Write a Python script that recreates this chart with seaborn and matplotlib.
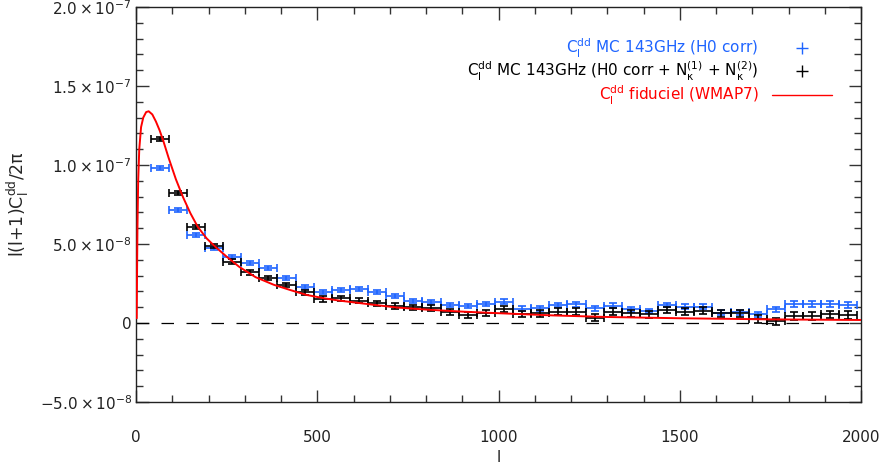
import numpy as np
import pandas as pd
import matplotlib
matplotlib.use('Agg')
import matplotlib.pyplot as plt
from matplotlib.lines import Line2D
from matplotlib.ticker import FixedLocator, FixedFormatter, MultipleLocator
import seaborn as sns

# Binned multipoles (bin centres) and half bin width
ell = [65, 115, 165, 215, 265, 315, 365, 415, 465, 515, 565, 615, 665, 715,
       765, 815, 865, 915, 965, 1015, 1065, 1115, 1165, 1215, 1265, 1315,
       1365, 1415, 1465, 1515, 1565, 1615, 1665, 1715, 1765, 1815, 1865,
       1915, 1965]
half_bin = 25

# MC 143GHz (H0 corr), units of 1e-8
cl_h0 = [9.83, 7.13, 5.57, 4.72, 4.16, 3.80, 3.50, 2.87, 2.30, 1.96, 2.09,
         2.15, 1.94, 1.71, 1.41, 1.31, 1.14, 1.08, 1.18, 1.35, 0.91, 0.93,
         1.14, 1.18, 0.93, 1.10, 0.87, 0.76, 1.14, 1.03, 1.03, 0.65, 0.68,
         0.55, 0.87, 1.20, 1.20, 1.20, 1.14]
err_h0 = [0.12, 0.12, 0.12, 0.12, 0.12, 0.12, 0.12, 0.12, 0.12, 0.12, 0.12,
          0.12, 0.12, 0.12, 0.13, 0.13, 0.13, 0.13, 0.13, 0.14, 0.14, 0.14,
          0.14, 0.14, 0.15, 0.15, 0.15, 0.15, 0.15, 0.16, 0.16, 0.16, 0.16,
          0.17, 0.17, 0.17, 0.17, 0.18, 0.18]

# MC 143GHz (H0 corr + N1 + N2), units of 1e-8
cl_n12 = [11.65, 8.21, 6.10, 4.85, 3.88, 3.20, 2.83, 2.41, 1.94, 1.52, 1.56,
          1.41, 1.25, 1.08, 0.99, 0.97, 0.68, 0.51, 0.61, 0.87, 0.55, 0.61,
          0.72, 0.72, 0.34, 0.72, 0.61, 0.55, 0.82, 0.72, 0.78, 0.61, 0.61,
          0.25, 0.10, 0.44, 0.44, 0.55, 0.49]
err_n12 = [0.13, 0.13, 0.13, 0.13, 0.14, 0.14, 0.14, 0.15, 0.15, 0.16, 0.16,
           0.16, 0.17, 0.17, 0.17, 0.18, 0.18, 0.18, 0.19, 0.19, 0.19, 0.20,
           0.20, 0.20, 0.20, 0.21, 0.21, 0.21, 0.21, 0.22, 0.22, 0.22, 0.22,
           0.23, 0.23, 0.23, 0.23, 0.24, 0.24]

# fiducial WMAP7 curve, units of 1e-8
fid_ell = [2, 3, 4, 6, 9, 14, 20, 28, 35, 45, 55, 65, 75, 90, 110, 130, 150,
           170, 195, 220, 250, 285, 330, 380, 425, 470, 520, 560, 610, 660,
           720, 800, 900, 1000, 1150, 1300, 1500, 1750, 2000]
fid_cl = [0.3, 3.5, 6.0, 9.0, 11.0, 12.4, 13.0, 13.35, 13.4, 13.2, 12.75,
          12.2, 11.55, 10.45, 9.1, 7.95, 6.95, 6.1, 5.35, 4.8, 4.2, 3.55,
          2.9, 2.42, 2.09, 1.78, 1.56, 1.42, 1.28, 1.14, 0.98, 0.85, 0.72,
          0.62, 0.48, 0.38, 0.30, 0.23, 0.19]

ytick_vals = [-5e-8, 0, 5e-8, 1e-7, 1.5e-7, 2e-7]
ytick_labels = [r'$-5.0\times10^{-8}$', '0', r'$5.0\times10^{-8}$',
                r'$1.0\times10^{-7}$', r'$1.5\times10^{-7}$', r'$2.0\times10^{-7}$']
xtick_vals = [0, 500, 1000, 1500, 2000]

labels = [r'C$_\mathrm{l}^\mathrm{dd}$ MC 143GHz (H0 corr)',
          r'C$_\mathrm{l}^\mathrm{dd}$ MC 143GHz (H0 corr + N$_\kappa^\mathrm{(1)}$ + N$_\kappa^\mathrm{(2)}$)',
          r'C$_\mathrm{l}^\mathrm{dd}$ fiduciel (WMAP7)']

blue = '#1e64ff'
scale = 1e-8

sns.set_style('ticks')
plt.rcParams['font.family'] = ['DejaVu Sans']
plt.rcParams['mathtext.fontset'] = 'dejavusans'
plt.rcParams['mathtext.default'] = 'regular'

fig = plt.figure(figsize=(8.83, 4.66), dpi=100)
ax = fig.add_axes([136 / 883, 1 - 402 / 466, 725 / 883, 395 / 466])

ax.errorbar(ell, np.array(cl_h0) * scale, xerr=half_bin, yerr=np.array(err_h0) * scale,
            fmt='none', ecolor=blue, elinewidth=1.2, capsize=3, capthick=1.2)
ax.errorbar(ell, np.array(cl_n12) * scale, xerr=half_bin, yerr=np.array(err_n12) * scale,
            fmt='none', ecolor='black', elinewidth=1.2, capsize=3, capthick=1.2)

fid = pd.DataFrame({'l': fid_ell, 'cl': np.array(fid_cl) * scale})
sns.lineplot(data=fid, x='l', y='cl', color='red', lw=1.4, ax=ax, sort=False, zorder=3)

ax.axhline(0, color='black', lw=0.9, ls=(0, (10, 10)))

ax.set_xlim(0, 2000)
ax.set_ylim(-5e-8, 2e-7)
ax.xaxis.set_major_locator(FixedLocator(xtick_vals))
ax.xaxis.set_minor_locator(MultipleLocator(100))
ax.yaxis.set_major_locator(FixedLocator(ytick_vals))
ax.yaxis.set_major_formatter(FixedFormatter(ytick_labels))
ax.yaxis.set_minor_locator(MultipleLocator(1e-8))
ax.tick_params(which='both', direction='in', top=True, right=True, width=1, color='#333333')
ax.tick_params(which='major', length=9, labelsize=11, labelcolor='#222222')
ax.tick_params(which='minor', length=5)
ax.tick_params(axis='x', pad=20)
ax.tick_params(axis='y', pad=3)
for s in ax.spines.values():
    s.set_linewidth(1)
    s.set_color('#222222')

ax.set_xlabel('l', fontsize=11, labelpad=4)
ax.set_ylabel(r'l(l+1)C$_\mathrm{l}^\mathrm{dd}$/2$\pi$', fontsize=12.5, labelpad=6)

handles = [Line2D([], [], color=blue, marker='+', ls='none', markersize=9, mew=1),
           Line2D([], [], color='black', marker='+', ls='none', markersize=9, mew=1),
           Line2D([], [], color='red', lw=1)]
ax.legend(handles, labels, loc='upper right', bbox_to_anchor=(0.96, 0.925),
          frameon=False, markerfirst=False, labelcolor=[blue, 'black', 'red'],
          handlelength=3.9, handletextpad=0.9, fontsize=11, labelspacing=0.02,
          borderpad=0, borderaxespad=0)

fig.savefig('out.png', dpi=100)
